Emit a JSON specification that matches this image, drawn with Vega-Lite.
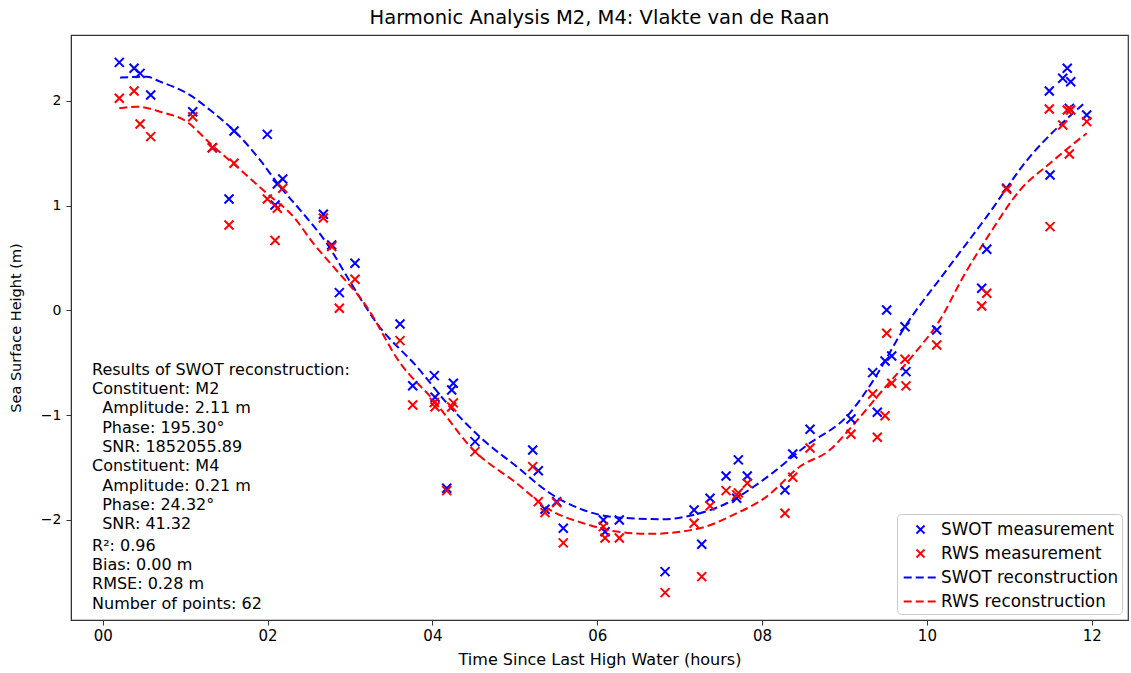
{
  "$schema": "https://vega.github.io/schema/vega-lite/v6.json",
  "width": 1057,
  "height": 585,
  "autosize": {"type": "none"},
  "padding": {"left": 71, "top": 35, "right": 3, "bottom": 53},
  "title": {"text": "Harmonic Analysis M2, M4: Vlakte van de Raan", "fontSize": 19.5, "fontWeight": "normal", "font": "DejaVu Sans", "color": "#000", "offset": 7, "anchor": "middle"},
  "config": {
    "view": {"stroke": "#333", "strokeWidth": 1.2},
    "font": "DejaVu Sans",
    "axis": {"grid": false, "domainColor": "#333", "tickColor": "#333", "tickSize": 5, "labelColor": "#000", "titleColor": "#000", "labelFontSize": 15, "titleFontSize": 16, "titleFontWeight": "normal", "labelFont": "DejaVu Sans", "titleFont": "DejaVu Sans"},
    "legend": {"labelFont": "DejaVu Sans"}
  },
  "datasets": {
    "meas": [
      {"t": 0.201, "h": 2.367, "series": "SWOT measurement"},
      {"t": 0.380, "h": 2.310, "series": "SWOT measurement"},
      {"t": 0.453, "h": 2.262, "series": "SWOT measurement"},
      {"t": 0.582, "h": 2.055, "series": "SWOT measurement"},
      {"t": 1.092, "h": 1.896, "series": "SWOT measurement"},
      {"t": 1.330, "h": 1.552, "series": "SWOT measurement"},
      {"t": 1.532, "h": 1.063, "series": "SWOT measurement"},
      {"t": 1.593, "h": 1.712, "series": "SWOT measurement"},
      {"t": 1.997, "h": 1.680, "series": "SWOT measurement"},
      {"t": 2.184, "h": 1.254, "series": "SWOT measurement"},
      {"t": 2.118, "h": 1.206, "series": "SWOT measurement"},
      {"t": 2.091, "h": 1.006, "series": "SWOT measurement"},
      {"t": 2.677, "h": 0.917, "series": "SWOT measurement"},
      {"t": 2.778, "h": 0.624, "series": "SWOT measurement"},
      {"t": 3.061, "h": 0.449, "series": "SWOT measurement"},
      {"t": 2.871, "h": 0.169, "series": "SWOT measurement"},
      {"t": 3.607, "h": -0.130, "series": "SWOT measurement"},
      {"t": 3.761, "h": -0.719, "series": "SWOT measurement"},
      {"t": 4.023, "h": -0.623, "series": "SWOT measurement"},
      {"t": 4.254, "h": -0.696, "series": "SWOT measurement"},
      {"t": 4.234, "h": -0.760, "series": "SWOT measurement"},
      {"t": 4.032, "h": -0.829, "series": "SWOT measurement"},
      {"t": 4.517, "h": -1.253, "series": "SWOT measurement"},
      {"t": 4.174, "h": -1.698, "series": "SWOT measurement"},
      {"t": 5.217, "h": -1.332, "series": "SWOT measurement"},
      {"t": 5.285, "h": -1.530, "series": "SWOT measurement"},
      {"t": 5.508, "h": -1.825, "series": "SWOT measurement"},
      {"t": 5.366, "h": -1.898, "series": "SWOT measurement"},
      {"t": 5.588, "h": -2.079, "series": "SWOT measurement"},
      {"t": 6.074, "h": -2.000, "series": "SWOT measurement"},
      {"t": 6.268, "h": -2.000, "series": "SWOT measurement"},
      {"t": 6.095, "h": -2.112, "series": "SWOT measurement"},
      {"t": 6.823, "h": -2.493, "series": "SWOT measurement"},
      {"t": 7.175, "h": -1.905, "series": "SWOT measurement"},
      {"t": 7.268, "h": -2.232, "series": "SWOT measurement"},
      {"t": 7.369, "h": -1.793, "series": "SWOT measurement"},
      {"t": 7.563, "h": -1.580, "series": "SWOT measurement"},
      {"t": 7.712, "h": -1.427, "series": "SWOT measurement"},
      {"t": 7.821, "h": -1.580, "series": "SWOT measurement"},
      {"t": 7.692, "h": -1.793, "series": "SWOT measurement"},
      {"t": 8.278, "h": -1.714, "series": "SWOT measurement"},
      {"t": 8.372, "h": -1.370, "series": "SWOT measurement"},
      {"t": 8.582, "h": -1.135, "series": "SWOT measurement"},
      {"t": 9.079, "h": -1.036, "series": "SWOT measurement"},
      {"t": 9.398, "h": -0.972, "series": "SWOT measurement"},
      {"t": 9.342, "h": -0.594, "series": "SWOT measurement"},
      {"t": 9.492, "h": -0.483, "series": "SWOT measurement"},
      {"t": 9.573, "h": -0.435, "series": "SWOT measurement"},
      {"t": 9.746, "h": -0.585, "series": "SWOT measurement"},
      {"t": 9.512, "h": 0.004, "series": "SWOT measurement"},
      {"t": 9.734, "h": -0.156, "series": "SWOT measurement"},
      {"t": 10.119, "h": -0.187, "series": "SWOT measurement"},
      {"t": 10.665, "h": 0.211, "series": "SWOT measurement"},
      {"t": 10.726, "h": 0.583, "series": "SWOT measurement"},
      {"t": 10.968, "h": 1.165, "series": "SWOT measurement"},
      {"t": 11.494, "h": 1.292, "series": "SWOT measurement"},
      {"t": 11.485, "h": 2.094, "series": "SWOT measurement"},
      {"t": 11.703, "h": 2.310, "series": "SWOT measurement"},
      {"t": 11.648, "h": 2.215, "series": "SWOT measurement"},
      {"t": 11.745, "h": 2.182, "series": "SWOT measurement"},
      {"t": 11.728, "h": 1.928, "series": "SWOT measurement"},
      {"t": 11.939, "h": 1.865, "series": "SWOT measurement"},
      {"t": 0.201, "h": 2.024, "series": "RWS measurement"},
      {"t": 0.380, "h": 2.094, "series": "RWS measurement"},
      {"t": 0.453, "h": 1.779, "series": "RWS measurement"},
      {"t": 0.582, "h": 1.658, "series": "RWS measurement"},
      {"t": 1.092, "h": 1.848, "series": "RWS measurement"},
      {"t": 1.330, "h": 1.552, "series": "RWS measurement"},
      {"t": 1.532, "h": 0.815, "series": "RWS measurement"},
      {"t": 1.593, "h": 1.404, "series": "RWS measurement"},
      {"t": 1.997, "h": 1.063, "series": "RWS measurement"},
      {"t": 2.184, "h": 1.165, "series": "RWS measurement"},
      {"t": 2.118, "h": 0.974, "series": "RWS measurement"},
      {"t": 2.091, "h": 0.667, "series": "RWS measurement"},
      {"t": 2.677, "h": 0.882, "series": "RWS measurement"},
      {"t": 2.778, "h": 0.608, "series": "RWS measurement"},
      {"t": 3.061, "h": 0.297, "series": "RWS measurement"},
      {"t": 2.871, "h": 0.020, "series": "RWS measurement"},
      {"t": 3.607, "h": -0.289, "series": "RWS measurement"},
      {"t": 3.761, "h": -0.903, "series": "RWS measurement"},
      {"t": 4.023, "h": -0.880, "series": "RWS measurement"},
      {"t": 4.254, "h": -0.883, "series": "RWS measurement"},
      {"t": 4.234, "h": -0.922, "series": "RWS measurement"},
      {"t": 4.032, "h": -0.920, "series": "RWS measurement"},
      {"t": 4.517, "h": -1.348, "series": "RWS measurement"},
      {"t": 4.174, "h": -1.720, "series": "RWS measurement"},
      {"t": 5.217, "h": -1.491, "series": "RWS measurement"},
      {"t": 5.285, "h": -1.825, "series": "RWS measurement"},
      {"t": 5.508, "h": -1.835, "series": "RWS measurement"},
      {"t": 5.366, "h": -1.930, "series": "RWS measurement"},
      {"t": 5.588, "h": -2.219, "series": "RWS measurement"},
      {"t": 6.074, "h": -2.064, "series": "RWS measurement"},
      {"t": 6.268, "h": -2.172, "series": "RWS measurement"},
      {"t": 6.095, "h": -2.172, "series": "RWS measurement"},
      {"t": 6.823, "h": -2.694, "series": "RWS measurement"},
      {"t": 7.175, "h": -2.031, "series": "RWS measurement"},
      {"t": 7.268, "h": -2.541, "series": "RWS measurement"},
      {"t": 7.369, "h": -1.866, "series": "RWS measurement"},
      {"t": 7.563, "h": -1.720, "series": "RWS measurement"},
      {"t": 7.712, "h": -1.742, "series": "RWS measurement"},
      {"t": 7.821, "h": -1.650, "series": "RWS measurement"},
      {"t": 7.692, "h": -1.761, "series": "RWS measurement"},
      {"t": 8.278, "h": -1.936, "series": "RWS measurement"},
      {"t": 8.372, "h": -1.593, "series": "RWS measurement"},
      {"t": 8.582, "h": -1.313, "series": "RWS measurement"},
      {"t": 9.079, "h": -1.182, "series": "RWS measurement"},
      {"t": 9.398, "h": -1.211, "series": "RWS measurement"},
      {"t": 9.342, "h": -0.798, "series": "RWS measurement"},
      {"t": 9.492, "h": -1.005, "series": "RWS measurement"},
      {"t": 9.573, "h": -0.696, "series": "RWS measurement"},
      {"t": 9.746, "h": -0.721, "series": "RWS measurement"},
      {"t": 9.512, "h": -0.219, "series": "RWS measurement"},
      {"t": 9.734, "h": -0.467, "series": "RWS measurement"},
      {"t": 10.119, "h": -0.330, "series": "RWS measurement"},
      {"t": 10.665, "h": 0.042, "series": "RWS measurement"},
      {"t": 10.726, "h": 0.163, "series": "RWS measurement"},
      {"t": 10.968, "h": 1.156, "series": "RWS measurement"},
      {"t": 11.494, "h": 0.799, "series": "RWS measurement"},
      {"t": 11.485, "h": 1.922, "series": "RWS measurement"},
      {"t": 11.703, "h": 1.912, "series": "RWS measurement"},
      {"t": 11.648, "h": 1.769, "series": "RWS measurement"},
      {"t": 11.745, "h": 1.912, "series": "RWS measurement"},
      {"t": 11.728, "h": 1.492, "series": "RWS measurement"},
      {"t": 11.939, "h": 1.801, "series": "RWS measurement"}
    ],
    "recon": [
      {"t": 0.211, "h": 2.221, "series": "SWOT reconstruction"},
      {"t": 0.534, "h": 2.230, "series": "SWOT reconstruction"},
      {"t": 0.697, "h": 2.183, "series": "SWOT reconstruction"},
      {"t": 1.059, "h": 2.055, "series": "SWOT reconstruction"},
      {"t": 1.302, "h": 1.912, "series": "SWOT reconstruction"},
      {"t": 1.626, "h": 1.690, "series": "SWOT reconstruction"},
      {"t": 1.908, "h": 1.436, "series": "SWOT reconstruction"},
      {"t": 2.151, "h": 1.181, "series": "SWOT reconstruction"},
      {"t": 2.394, "h": 0.959, "series": "SWOT reconstruction"},
      {"t": 2.718, "h": 0.640, "series": "SWOT reconstruction"},
      {"t": 3.000, "h": 0.275, "series": "SWOT reconstruction"},
      {"t": 3.325, "h": -0.123, "series": "SWOT reconstruction"},
      {"t": 3.810, "h": -0.537, "series": "SWOT reconstruction"},
      {"t": 4.214, "h": -0.919, "series": "SWOT reconstruction"},
      {"t": 4.618, "h": -1.237, "series": "SWOT reconstruction"},
      {"t": 5.023, "h": -1.491, "series": "SWOT reconstruction"},
      {"t": 5.427, "h": -1.745, "series": "SWOT reconstruction"},
      {"t": 5.831, "h": -1.905, "series": "SWOT reconstruction"},
      {"t": 6.236, "h": -1.976, "series": "SWOT reconstruction"},
      {"t": 6.802, "h": -1.993, "series": "SWOT reconstruction"},
      {"t": 7.166, "h": -1.952, "series": "SWOT reconstruction"},
      {"t": 7.571, "h": -1.841, "series": "SWOT reconstruction"},
      {"t": 8.015, "h": -1.618, "series": "SWOT reconstruction"},
      {"t": 8.533, "h": -1.293, "series": "SWOT reconstruction"},
      {"t": 9.060, "h": -0.985, "series": "SWOT reconstruction"},
      {"t": 9.342, "h": -0.678, "series": "SWOT reconstruction"},
      {"t": 9.734, "h": -0.156, "series": "SWOT reconstruction"},
      {"t": 10.240, "h": 0.386, "series": "SWOT reconstruction"},
      {"t": 10.726, "h": 0.895, "series": "SWOT reconstruction"},
      {"t": 11.251, "h": 1.468, "series": "SWOT reconstruction"},
      {"t": 11.534, "h": 1.706, "series": "SWOT reconstruction"},
      {"t": 11.817, "h": 1.913, "series": "SWOT reconstruction"},
      {"t": 11.918, "h": 1.983, "series": "SWOT reconstruction"},
      {"t": 0.201, "h": 1.928, "series": "RWS reconstruction"},
      {"t": 0.413, "h": 1.944, "series": "RWS reconstruction"},
      {"t": 0.695, "h": 1.896, "series": "RWS reconstruction"},
      {"t": 1.019, "h": 1.801, "series": "RWS reconstruction"},
      {"t": 1.302, "h": 1.594, "series": "RWS reconstruction"},
      {"t": 1.626, "h": 1.372, "series": "RWS reconstruction"},
      {"t": 1.990, "h": 1.117, "series": "RWS reconstruction"},
      {"t": 2.313, "h": 0.895, "series": "RWS reconstruction"},
      {"t": 2.555, "h": 0.640, "series": "RWS reconstruction"},
      {"t": 2.798, "h": 0.417, "series": "RWS reconstruction"},
      {"t": 3.203, "h": 0.035, "series": "RWS reconstruction"},
      {"t": 3.607, "h": -0.501, "series": "RWS reconstruction"},
      {"t": 4.011, "h": -0.855, "series": "RWS reconstruction"},
      {"t": 4.497, "h": -1.332, "series": "RWS reconstruction"},
      {"t": 5.023, "h": -1.650, "series": "RWS reconstruction"},
      {"t": 5.427, "h": -1.905, "series": "RWS reconstruction"},
      {"t": 5.831, "h": -2.031, "series": "RWS reconstruction"},
      {"t": 6.236, "h": -2.111, "series": "RWS reconstruction"},
      {"t": 6.640, "h": -2.133, "series": "RWS reconstruction"},
      {"t": 7.247, "h": -2.079, "series": "RWS reconstruction"},
      {"t": 7.651, "h": -1.952, "series": "RWS reconstruction"},
      {"t": 8.056, "h": -1.777, "series": "RWS reconstruction"},
      {"t": 8.460, "h": -1.490, "series": "RWS reconstruction"},
      {"t": 8.824, "h": -1.331, "series": "RWS reconstruction"},
      {"t": 9.088, "h": -1.109, "series": "RWS reconstruction"},
      {"t": 9.431, "h": -0.791, "series": "RWS reconstruction"},
      {"t": 9.835, "h": -0.425, "series": "RWS reconstruction"},
      {"t": 10.159, "h": -0.091, "series": "RWS reconstruction"},
      {"t": 10.442, "h": 0.323, "series": "RWS reconstruction"},
      {"t": 10.766, "h": 0.736, "series": "RWS reconstruction"},
      {"t": 11.130, "h": 1.148, "series": "RWS reconstruction"},
      {"t": 11.494, "h": 1.404, "series": "RWS reconstruction"},
      {"t": 11.736, "h": 1.563, "series": "RWS reconstruction"},
      {"t": 11.939, "h": 1.690, "series": "RWS reconstruction"}
    ],
    "notes": [
      {"lines": ["Results of SWOT reconstruction:", "Constituent: M2", "\u200b\u00a0\u00a0Amplitude: 2.11 m", "\u200b\u00a0\u00a0Phase: 195.30°", "\u200b\u00a0\u00a0SNR: 1852055.89", "Constituent: M4", "\u200b\u00a0\u00a0Amplitude: 0.21 m", "\u200b\u00a0\u00a0Phase: 24.32°", "\u200b\u00a0\u00a0SNR: 41.32"]}
    ],
    "notes2": [
      {"lines": ["R²: 0.96", "Bias: 0.00 m", "RMSE: 0.28 m", "Number of points: 62"]}
    ]
  },
  "layer": [
    {
      "data": {"name": "recon"},
      "mark": {"type": "line", "strokeWidth": 2, "interpolate": "monotone"},
      "encoding": {
        "x": {"field": "t", "type": "quantitative",
          "scale": {"domain": [-0.385, 12.44], "nice": false, "zero": false},
          "axis": {"values": [0, 2, 4, 6, 8, 10, 12], "labelExpr": "datum.value < 10 ? '0' + datum.value : '' + datum.value", "title": "Time Since Last High Water (hours)", "labelPadding": 3, "titlePadding": 8}},
        "y": {"field": "h", "type": "quantitative",
          "scale": {"domain": [-2.955, 2.628], "nice": false, "zero": false},
          "axis": {"values": [-2, -1, 0, 1, 2], "format": "d", "title": "Sea Surface Height (m)", "labelFontSize": 14, "titleFontSize": 14.5, "labelPadding": 5, "titlePadding": 17}},
        "color": {"field": "series", "type": "nominal",
          "scale": {"domain": ["SWOT measurement", "RWS measurement", "SWOT reconstruction", "RWS reconstruction"], "range": ["#0000ff", "#ff0000", "#0000ff", "#ff0000"]},
          "legend": {"title": null, "orient": "bottom-right", "offset": 6, "padding": 3, "fillColor": "white", "strokeColor": "#cccccc", "cornerRadius": 4, "labelFontSize": 16.8, "labelLimit": 400, "symbolSize": 100, "symbolStrokeWidth": 2, "rowPadding": 2, "labelOffset": 8, "symbolOffset": 8,
            "encode": {"symbols": {"update": {"size": {"signal": "indexof(['SWOT measurement','RWS measurement'], datum.value) >= 0 ? 64 : 500"}}}}}},
        "strokeDash": {"field": "series", "type": "nominal",
          "scale": {"domain": ["SWOT measurement", "RWS measurement", "SWOT reconstruction", "RWS reconstruction"], "range": [[1, 0], [1, 0], [8, 4], [8, 4]]}}
      }
    },
    {
      "data": {"name": "meas"},
      "mark": {"type": "point", "filled": false, "strokeWidth": 2, "size": 81, "opacity": 1},
      "encoding": {
        "x": {"field": "t", "type": "quantitative"},
        "y": {"field": "h", "type": "quantitative"},
        "color": {"field": "series", "type": "nominal"},
        "shape": {"field": "series", "type": "nominal",
          "scale": {"domain": ["SWOT measurement", "RWS measurement", "SWOT reconstruction", "RWS reconstruction"], "range": ["M-1,-1L1,1M-1,1L1,-1", "M-1,-1L1,1M-1,1L1,-1", "M-1.5,0L1.5,0", "M-1.5,0L1.5,0"]}}
      }
    },
    {
      "data": {"name": "notes"},
      "mark": {"type": "text", "align": "left", "baseline": "top", "fontSize": 16, "lineHeight": 19.3, "font": "DejaVu Sans", "fill": "#000"},
      "encoding": {
        "x": {"datum": -0.13},
        "y": {"datum": -0.49},
        "text": {"field": "lines"}
      }
    },
    {
      "data": {"name": "notes2"},
      "mark": {"type": "text", "align": "left", "baseline": "top", "fontSize": 16, "lineHeight": 19.3, "font": "DejaVu Sans", "fill": "#000"},
      "encoding": {
        "x": {"datum": -0.13},
        "y": {"datum": -2.17},
        "text": {"field": "lines"}
      }
    }
  ]
}
